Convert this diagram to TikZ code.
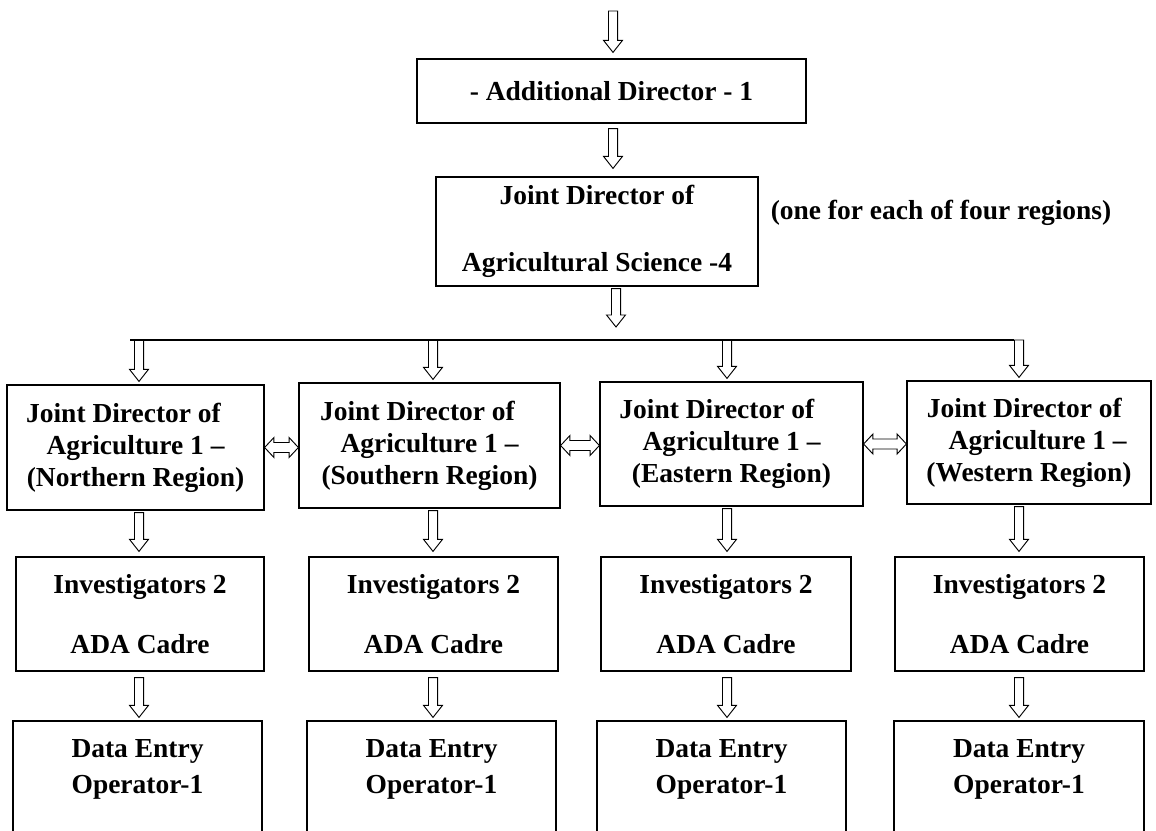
\documentclass[tikz,border=0pt]{standalone}
\usepackage{fontspec}
\setmainfont{Liberation Serif}
\usetikzlibrary{calc}

\def\px{0.75pt}
\tikzset{
  box/.style={draw, line width=0.9pt, align=center, inner sep=0pt},
  bigtext/.style={font=\bfseries\fontsize{20.6}{#1}\selectfont},
  arrowline/.style={line width=0.7pt, line join=miter},
}
% hollow arrow pointing down, from #1 (top) to #2 (tip)
\newcommand{\hdown}[2]{%
  \draw[arrowline] let \p1=#1, \p2=#2 in
    (\x1-3.4pt,\y1) -- (\x1+3.4pt,\y1) -- (\x1+3.4pt,\y2+9pt) -- (\x1+7.1pt,\y2+9pt)
    -- (\x1,\y2) -- (\x1-7.1pt,\y2+9pt) -- (\x1-3.4pt,\y2+9pt) -- cycle;}
% hollow arrow with two heads, from #1 (left) to #2 (right)
\newcommand{\hboth}[2]{%
  \draw[arrowline] let \p1=#1, \p2=#2 in
    (\x1,\y1) -- (\x1+7pt,\y1+7.5pt) -- (\x1+7pt,\y1+3.75pt) -- (\x2-7pt,\y1+3.75pt)
    -- (\x2-7pt,\y1+7.5pt) -- (\x2,\y1) -- (\x2-7pt,\y1-7.5pt) -- (\x2-7pt,\y1-3.75pt)
    -- (\x1+7pt,\y1-3.75pt) -- (\x1+7pt,\y1-7.5pt) -- cycle;}

\begin{document}
\begin{tikzpicture}[x=0.75pt,y=-0.75pt]
  \useasboundingbox (0,0) rectangle (1156,831);
  \def\regs{135.5/447.5/257/125/Northern/18/0,429.5/445.5/261/125/Southern/18/0,731.5/444/263/124/Eastern/22/0,1029/442.5/244/123/Western/7/13}
  \def\invs{140/248,433.5/249,726/250,1019.5/249}
  \def\dats{137.5/249,431.5/249,721.5/249,1019/250}
  \def\arrx{139,433,727,1019}
  %        N    S    E    W

  \node[box, bigtext=24, minimum width=389*\px, minimum height=64*\px] (add) at (611.5,91) {- Additional Director - 1};
  \node[box, bigtext=50, minimum width=322*\px, minimum height=109*\px] (jdas) at (597,231.5) {Joint Director of\\Agricultural Science -4};
  \node[bigtext=24, inner sep=0pt] (note) at (941,213) {(one for each of four regions)};

  \foreach \x/\y/\w/\h/\r/\sa/\sb [count=\i from 1] in \regs {\node[box, bigtext=24, minimum width=\w*\px, minimum height=\h*\px] (r\i) at (\x,\y) {Joint Director of\hspace*{\sa pt}\\\hspace*{\sb pt}Agriculture 1 –\\(\r\ Region)};}
  \foreach \x/\w [count=\i from 1] in \invs {\node[box, bigtext=45, minimum width=\w*\px, minimum height=114*\px] (i\i) at (\x,614) {Investigators 2\\ADA Cadre};}
  \foreach \x/\w [count=\i from 1] in \dats {\node[box, bigtext=27, minimum width=\w*\px, minimum height=126*\px] (d\i) at (\x,784) {Data Entry\\Operator-1\\\mbox{}};}

  \coordinate (top) at (613,11);
  \coordinate (busl) at (130,340);
  \coordinate (busr) at (1014,340);
  \coordinate (busin) at (616,340);
  \foreach \x [count=\i from 1] in \arrx {\coordinate (c\i) at (\x,340);}

  \hdown{(top)}{($(top |- add.north)+(0,-6)$)}
  \hdown{($(top |- add.south)+(0,5)$)}{($(top |- jdas.north)+(0,-8)$)}
  \hdown{($(busin |- jdas.south)+(0,2)$)}{($(busin)+(0,-13)$)}
  \draw[line width=0.9pt] (busl) -- (busr);

  \foreach \i in {1,...,4} {
    \hdown{(c\i)}{($(c\i |- r\i.north)+(0,-3)$)}
    \hdown{($(c\i |- r\i.south)+(0,2)$)}{($(c\i |- i\i.north)+(0,-5)$)}
    \hdown{($(c\i |- i\i.south)+(0,6)$)}{($(c\i |- d\i.north)+(0,-3)$)}
  }
  \foreach \i/\j in {1/2,2/3,3/4} {\hboth{(r\i.east)}{(r\j.west)}}
\end{tikzpicture}
\end{document}
